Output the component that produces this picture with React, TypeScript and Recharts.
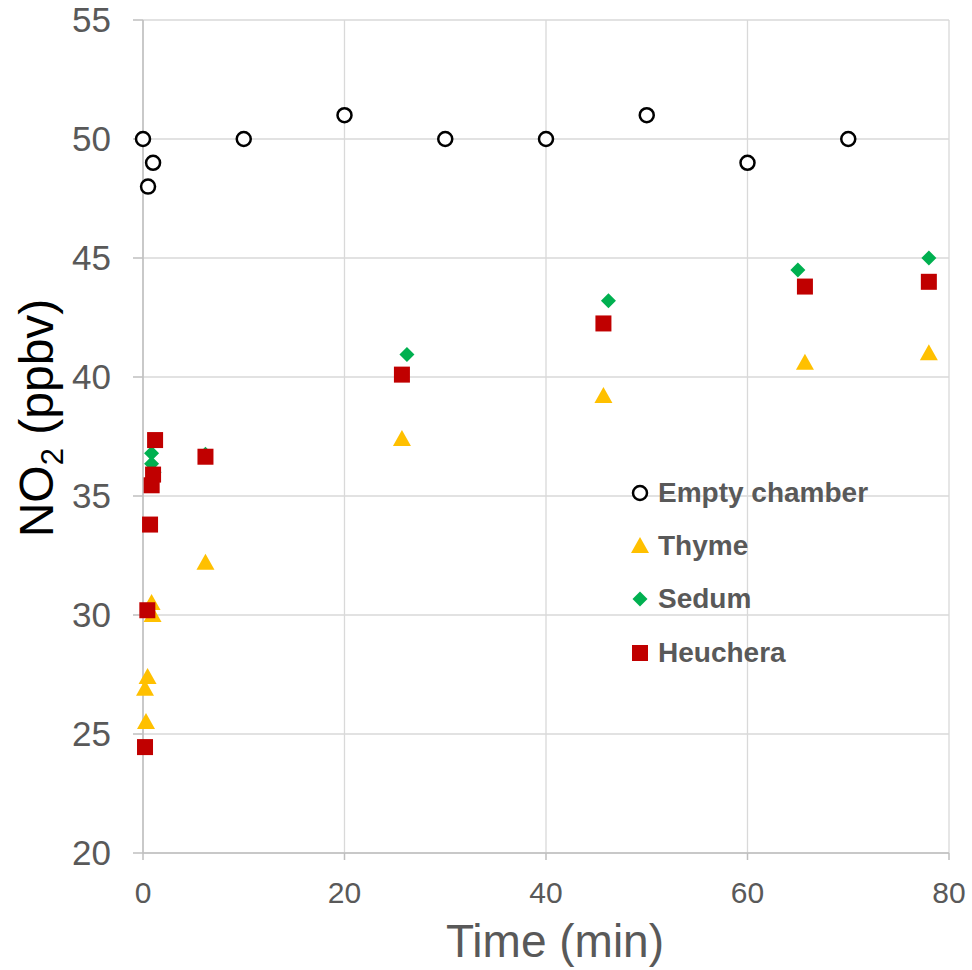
import React from 'react';
import { ScatterChart, Scatter, XAxis, YAxis, CartesianGrid, Label } from 'recharts';

const emptyChamber = [
  { t: 0, no2: 50 }, { t: 0.5, no2: 48 }, { t: 1, no2: 49 }, { t: 10, no2: 50 },
  { t: 20, no2: 51 }, { t: 30, no2: 50 }, { t: 40, no2: 50 }, { t: 50, no2: 51 },
  { t: 60, no2: 49 }, { t: 70, no2: 50 },
];

const thyme = [
  { t: 0.2, no2: 26.9 }, { t: 0.3, no2: 25.5 }, { t: 0.45, no2: 27.4 },
  { t: 0.85, no2: 30.5 }, { t: 0.95, no2: 30.0 }, { t: 6.2, no2: 32.2 },
  { t: 25.7, no2: 37.4 }, { t: 45.7, no2: 39.2 }, { t: 65.7, no2: 40.6 }, { t: 78, no2: 41 },
];

const sedum = [
  { t: 0.85, no2: 36.8 }, { t: 0.85, no2: 36.35 }, { t: 1.1, no2: 36.0 },
  { t: 6.2, no2: 36.75 }, { t: 26.2, no2: 40.95 }, { t: 46.2, no2: 43.2 },
  { t: 65, no2: 44.5 }, { t: 78, no2: 45 },
];

const heuchera = [
  { t: 0.2, no2: 24.45 }, { t: 0.43, no2: 30.2 }, { t: 0.7, no2: 33.8 },
  { t: 0.86, no2: 35.45 }, { t: 1.0, no2: 35.9 }, { t: 1.2, no2: 37.35 },
  { t: 6.2, no2: 36.65 }, { t: 25.7, no2: 40.1 }, { t: 45.7, no2: 42.25 },
  { t: 65.7, no2: 43.8 }, { t: 78, no2: 44 },
];

const xTicks = [0, 20, 40, 60, 80];
const yTicks = [20, 25, 30, 35, 40, 45, 50, 55];

const GRAY = '#595959';
const FONT = '"Liberation Sans", Arial, sans-serif';

const circleShape = (p: any) => (
  <circle cx={p.cx} cy={p.cy} r={7} fill="#fff" stroke="#000" strokeWidth={2.5} />
);
const triangleShape = (p: any) => (
  <path d={`M${p.cx},${p.cy - 9} L${p.cx + 9},${p.cy + 7} L${p.cx - 9},${p.cy + 7} Z`} fill="#ffc000" />
);
const diamondShape = (p: any) => (
  <path d={`M${p.cx},${p.cy - 7.5} L${p.cx + 7.5},${p.cy} L${p.cx},${p.cy + 7.5} L${p.cx - 7.5},${p.cy} Z`} fill="#00b050" />
);
const squareShape = (p: any) => (
  <rect x={p.cx - 8} y={p.cy - 8} width={16} height={16} fill="#c00000" />
);

const legendItems = [
  { name: 'Empty chamber', shape: circleShape },
  { name: 'Thyme', shape: triangleShape },
  { name: 'Sedum', shape: diamondShape },
  { name: 'Heuchera', shape: squareShape },
];

const ChartLegend = () => (
  <div style={{ position: 'absolute', left: 629, top: 466, width: 320 }}>
    {legendItems.map((item) => (
      <div key={item.name} style={{ display: 'flex', alignItems: 'center', height: 53.3 }}>
        <svg width={22} height={22} style={{ marginRight: 7 }}>
          {item.shape({ cx: 11, cy: 11 })}
        </svg>
        <span style={{ fontFamily: FONT, fontWeight: 'bold', fontSize: 28, color: GRAY }}>{item.name}</span>
      </div>
    ))}
  </div>
);

// rotated y-axis title with subscript 2
const YLabel = () => {
  const bx = 53;
  const cy = 418;
  return (
    <text
      x={bx}
      y={cy}
      transform={`rotate(-90, ${bx}, ${cy})`}
      textAnchor="middle"
      fontFamily={FONT}
      fontSize={48}
      fill="#000"
    >
      NO<tspan fontSize={31} dy={10}>2</tspan>
      <tspan dy={-10}> (ppbv)</tspan>
    </text>
  );
};

export default function App() {
  return (
    <div style={{ position: 'absolute', left: 0, top: 0, width: 972, height: 970, background: '#fff' }}>
      <ScatterChart width={972} height={970} margin={{ top: 20, right: 23, bottom: 0, left: 0 }}>
        <CartesianGrid stroke="#d9d9d9" strokeWidth={1.3} />
        <XAxis
          type="number"
          dataKey="t"
          domain={[0, 80]}
          ticks={xTicks}
          height={117}
          stroke="#bfbfbf"
          strokeWidth={1.5}
          tickSize={7}
          tick={{ fill: GRAY, fontSize: 30, fontFamily: FONT, dy: 20 }}
        >
          <Label value="Time (min)" position="insideBottom" offset={13} dx={9} fill={GRAY} fontSize={46} fontFamily={FONT} />
        </XAxis>
        <YAxis
          type="number"
          dataKey="no2"
          domain={[20, 55]}
          ticks={yTicks}
          width={143}
          stroke="#bfbfbf"
          strokeWidth={1.5}
          tickSize={10}
          tick={{ fill: GRAY, fontSize: 35, fontFamily: FONT, dx: -20 }}
        >
          <Label content={<YLabel />} />
        </YAxis>
        <Scatter name="Empty chamber" data={emptyChamber} shape={circleShape} isAnimationActive={false} />
        <Scatter name="Thyme" data={thyme} shape={triangleShape} isAnimationActive={false} />
        <Scatter name="Sedum" data={sedum} shape={diamondShape} isAnimationActive={false} />
        <Scatter name="Heuchera" data={heuchera} shape={squareShape} isAnimationActive={false} />
      </ScatterChart>
      <ChartLegend />
    </div>
  );
}
